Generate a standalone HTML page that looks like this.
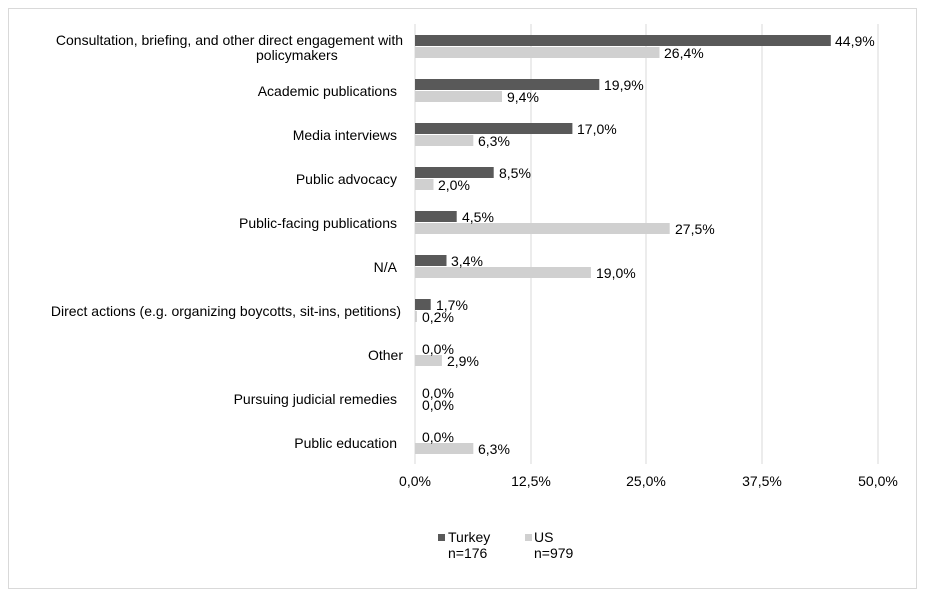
<!DOCTYPE html>
<html><head><meta charset="utf-8"><style>
body{margin:0;background:#fff}
svg{display:block;font-family:"Liberation Sans",Arial,sans-serif;font-size:14px;fill:#000}
</style></head><body>
<svg width="925" height="592" xmlns="http://www.w3.org/2000/svg">
<rect x="8.5" y="8.5" width="908" height="580" fill="#fff" stroke="#d9d9d9"/>
<g stroke="#d9d9d9" stroke-width="1">
<line x1="531" y1="24" x2="531" y2="464"/>
<line x1="646" y1="24" x2="646" y2="464"/>
<line x1="762" y1="24" x2="762" y2="464"/>
<line x1="878" y1="24" x2="878" y2="464"/>
<line x1="415" y1="24" x2="415" y2="464"/>
</g>
<g fill="#595959">
<rect x="415" y="35" width="415.8" height="11"/>
<rect x="415" y="79" width="184.3" height="11"/>
<rect x="415" y="123" width="157.4" height="11"/>
<rect x="415" y="167" width="78.7" height="11"/>
<rect x="415" y="211" width="41.7" height="11"/>
<rect x="415" y="255" width="31.5" height="11"/>
<rect x="415" y="299" width="15.7" height="11"/>
</g>
<g fill="#d0d0d0">
<rect x="415" y="47" width="244.5" height="11"/>
<rect x="415" y="91" width="87" height="11"/>
<rect x="415" y="135" width="58.3" height="11"/>
<rect x="415" y="179" width="18.5" height="11"/>
<rect x="415" y="223" width="254.7" height="11"/>
<rect x="415" y="267" width="175.9" height="11"/>
<rect x="415" y="311" width="1.9" height="11"/>
<rect x="415" y="355" width="26.9" height="11"/>
<rect x="415" y="443" width="58.3" height="11"/>
</g>
<g>
<text x="835" y="46">44,9%</text><text x="664" y="58">26,4%</text>
<text x="604" y="90">19,9%</text><text x="507" y="102">9,4%</text>
<text x="577" y="134">17,0%</text><text x="478" y="146">6,3%</text>
<text x="499" y="178">8,5%</text><text x="438" y="190">2,0%</text>
<text x="462" y="222">4,5%</text><text x="675" y="234">27,5%</text>
<text x="451" y="266">3,4%</text><text x="596" y="278">19,0%</text>
<text x="436" y="310">1,7%</text><text x="422" y="322">0,2%</text>
<text x="422" y="354">0,0%</text><text x="447" y="366">2,9%</text>
<text x="422" y="398">0,0%</text><text x="422" y="410">0,0%</text>
<text x="422" y="442">0,0%</text><text x="478" y="454">6,3%</text>
</g>
<g text-anchor="end">
<text x="403" y="45">Consultation, briefing, and other direct engagement with</text>
<text x="397" y="272">N/A</text>
<text x="397" y="96">Academic publications</text>
<text x="397" y="140">Media interviews</text>
<text x="397" y="184">Public advocacy</text>
<text x="397" y="228">Public-facing publications</text>
<text x="401" y="316">Direct actions (e.g. organizing boycotts, sit-ins, petitions)</text>
<text x="403" y="360">Other</text>
<text x="397" y="404">Pursuing judicial remedies</text>
<text x="397" y="448">Public education</text>
</g>
<text x="256" y="60">policymakers</text>
<g text-anchor="middle">
<text x="415" y="486">0,0%</text>
<text x="531" y="486">12,5%</text>
<text x="646" y="486">25,0%</text>
<text x="762" y="486">37,5%</text>
<text x="878" y="486">50,0%</text>
</g>
<rect x="438" y="534" width="7" height="7" fill="#595959"/>
<text x="448" y="542">Turkey</text>
<text x="448" y="558">n=176</text>
<rect x="525" y="534" width="7" height="7" fill="#d0d0d0"/>
<text x="534" y="542">US</text>
<text x="534" y="558">n=979</text>
</svg>
</body></html>
